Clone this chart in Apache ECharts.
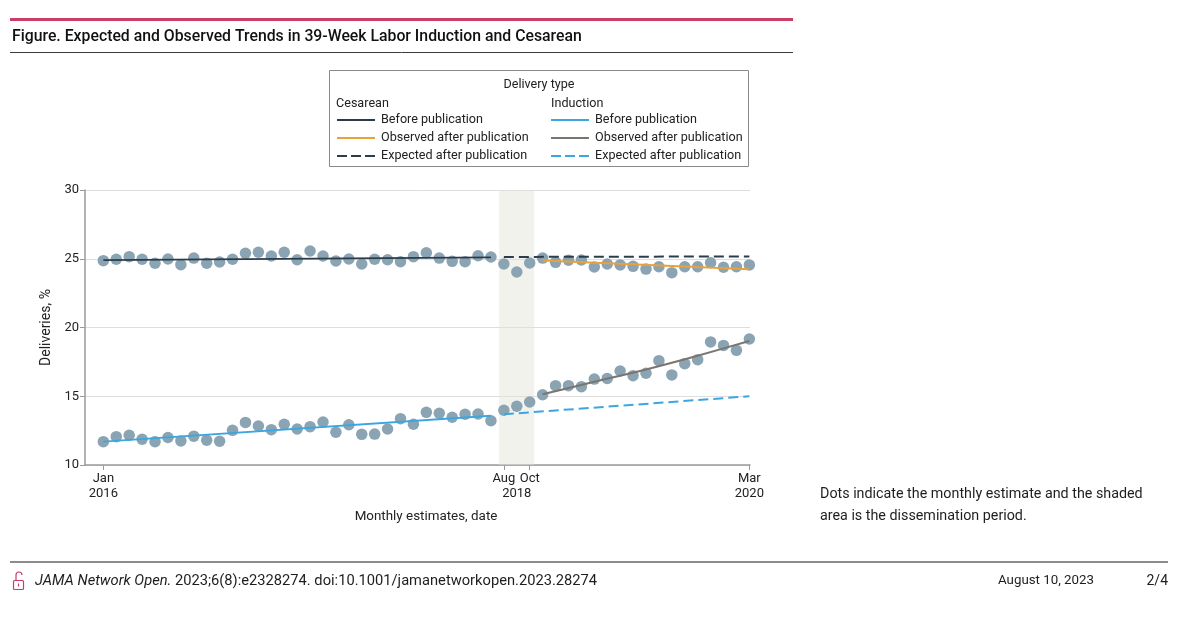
<!DOCTYPE html>
<html>
<head>
<meta charset="utf-8">
<script src="https://cdn.jsdelivr.net/npm/echarts@6/dist/echarts.min.js"></script>
<style>
html,body{margin:0;padding:0;background:#fff;}
#c{width:1200px;height:631px;}
</style>
</head>
<body>
<div id="c"></div>
<script>
// ---- data ----
const tickIndex = [0, 31, 33, 50];              // month index (0 = Jan 2016)
const labelIndex = [0, 31, 32, 33, 50];
const monthLabels = ['Jan\n2016', 'Aug', '\n2018', 'Oct', 'Mar\n2020'];
const yTicks = [10, 15, 20, 25, 30];

const cesarean = [24.86, 24.96, 25.15, 24.96, 24.67, 24.98, 24.57, 25.05, 24.67, 24.76, 24.96, 25.40,
  25.47, 25.20, 25.47, 24.93, 25.56, 25.20, 24.84, 24.98, 24.62, 24.96, 24.93, 24.79,
  25.15, 25.44, 25.05, 24.81, 24.79, 25.22, 25.13, 24.62, 24.04, 24.69, 25.05, 24.74,
  24.89, 24.91, 24.40, 24.62, 24.55, 24.45, 24.25, 24.42, 23.99, 24.42, 24.42, 24.71,
  24.38, 24.42, 24.55];
const induction = [11.70, 12.06, 12.16, 11.87, 11.70, 12.00, 11.75, 12.10, 11.80, 11.73, 12.52, 13.10,
  12.84, 12.57, 12.96, 12.62, 12.79, 13.13, 12.38, 12.93, 12.23, 12.25, 12.62, 13.37,
  12.96, 13.83, 13.76, 13.47, 13.69, 13.71, 13.22, 13.98, 14.27, 14.58, 15.11, 15.77,
  15.77, 15.70, 16.25, 16.30, 16.84, 16.50, 16.67, 17.59, 16.55, 17.37, 17.66, 18.95,
  18.70, 18.34, 19.16];

const cesBefore   = [[0, 24.90], [30, 25.10]];
const cesExpected = [[31, 25.13], [50, 25.17]];
const cesObserved = [[34, 24.87], [50, 24.23]];
const indBefore   = [[0, 11.70], [30, 13.58]];
const indExpected = [[31, 13.69], [50, 15.00]];
const indObserved = [[34, 15.14], [38, 16.05], [42, 16.95], [46, 17.95], [50, 19.02]];
const dissemination = [30.63, 33.34];

// ---- style ----
const FONT = 'Roboto, "Noto Sans", sans-serif';
const C_DOT = '#8ba4b4';
const C_CES = '#2b3d4b';
const C_ORANGE = '#e9a23b';
const C_BLUE = '#3ba6df';
const C_GRAY = '#7b756f';
const TXT = '#222';
const PINK = '#cb3c67';

const chart = echarts.init(document.getElementById('c'), null, {renderer: 'canvas'});

function lineSeries(name, data, color, dashed) {
  return {
    name, type: 'line', data, symbol: 'none', z: 5, smooth: data.length > 2 ? 0.3 : false,
    lineStyle: {color, width: 2, type: dashed ? [10, 5] : 'solid'},
    silent: true, animation: false
  };
}

const legendItems = [];
function legendRow(x, y, color, dashed, text) {
  legendItems.push({type: 'line', shape: {x1: x, y1: y, x2: x + 38, y2: y},
    style: {stroke: color, lineWidth: 2, lineDash: dashed ? [10, 4] : null}});
  legendItems.push({type: 'text', x: x + 44, y: y,
    style: {text, font: '12.6px ' + FONT, fill: TXT, textVerticalAlign: 'middle'}});
}
legendRow(337, 120, C_CES, false, 'Before publication');
legendRow(337, 138, C_ORANGE, false, 'Observed after publication');
legendRow(337, 156, C_CES, true, 'Expected after publication');
legendRow(551, 120, C_BLUE, false, 'Before publication');
legendRow(551, 138, C_GRAY, false, 'Observed after publication');
legendRow(551, 156, C_BLUE, true, 'Expected after publication');

const option = {
  animation: false,
  textStyle: {fontFamily: FONT},
  grid: {left: 85, right: 450, top: 190, bottom: 166, containLabel: false},
  xAxis: {
    type: 'value', min: -1.42, max: 50.05,
    axisLine: {show: true, onZero: false, lineStyle: {color: '#9a9a9a', width: 1.5}},
    axisTick: {show: true, length: 5, customValues: tickIndex, lineStyle: {color: '#9a9a9a'}},
    axisLabel: {
      customValues: labelIndex, margin: 6, color: TXT, fontSize: 13, lineHeight: 15,
      verticalAlign: 'top',
      formatter: v => monthLabels[labelIndex.indexOf(Math.round(v))] || ''
    },
    splitLine: {show: false}
  },
  yAxis: {
    type: 'value', min: yTicks[0], max: yTicks[yTicks.length - 1], interval: 5,
    name: 'Deliveries, %', nameLocation: 'middle', nameGap: 31, nameRotate: 90,
    nameTextStyle: {color: TXT, fontSize: 14},
    axisLine: {show: true, onZero: false, lineStyle: {color: '#9a9a9a', width: 1.5}},
    axisTick: {show: true, length: 5, lineStyle: {color: '#9a9a9a'}},
    axisLabel: {color: TXT, fontSize: 13, margin: 6},
    splitLine: {show: true, lineStyle: {color: '#dedede', width: 1}}
  },
  series: [
    {type: 'line', data: [], z: 1, silent: true,
      markArea: {silent: true, itemStyle: {color: 'rgba(226,226,214,0.45)'},
        data: [[{xAxis: dissemination[0]}, {xAxis: dissemination[1]}]]}},
    {name: 'Cesarean', type: 'scatter', z: 3, symbolSize: 11.5,
      itemStyle: {color: C_DOT, opacity: 1},
      data: cesarean.map((v, i) => [i, v])},
    {name: 'Induction', type: 'scatter', z: 3, symbolSize: 11.5,
      itemStyle: {color: C_DOT, opacity: 1},
      data: induction.map((v, i) => [i, v])},
    lineSeries('Cesarean before', cesBefore, C_CES, false),
    lineSeries('Cesarean expected', cesExpected, C_CES, true),
    lineSeries('Cesarean observed', cesObserved, C_ORANGE, false),
    lineSeries('Induction before', indBefore, C_BLUE, false),
    lineSeries('Induction expected', indExpected, C_BLUE, true),
    lineSeries('Induction observed', indObserved, C_GRAY, false)
  ],
  graphic: [
    // top rule + title
    {type: 'rect', shape: {x: 10, y: 18, width: 783, height: 3}, style: {fill: PINK}},
    {type: 'text', x: 12, y: 37,
      style: {text: 'Figure. Expected and Observed Trends in 39-Week Labor Induction and Cesarean',
        font: '500 15.8px ' + FONT, fill: '#111', textVerticalAlign: 'middle'}},
    {type: 'line', shape: {x1: 10, y1: 52.5, x2: 793, y2: 52.5}, style: {stroke: '#3a3a3a', lineWidth: 1}},
    // legend box
    {type: 'rect', shape: {x: 329.5, y: 70.5, width: 419, height: 96},
      style: {fill: '#fff', stroke: '#8a8a8a', lineWidth: 1}},
    {type: 'text', x: 539, y: 85,
      style: {text: 'Delivery type', font: '12.6px ' + FONT, fill: TXT, textAlign: 'center', textVerticalAlign: 'middle'}},
    {type: 'text', x: 336, y: 104,
      style: {text: 'Cesarean', font: '12.6px ' + FONT, fill: TXT, textVerticalAlign: 'middle'}},
    {type: 'text', x: 551, y: 104,
      style: {text: 'Induction', font: '12.6px ' + FONT, fill: TXT, textVerticalAlign: 'middle'}},
    ...legendItems,
    // x axis title
    {type: 'text', x: 426, y: 517,
      style: {text: 'Monthly estimates, date', font: '13.4px ' + FONT, fill: TXT, textAlign: 'center', textVerticalAlign: 'middle'}},
    // note
    {type: 'text', x: 820, y: 494,
      style: {text: 'Dots indicate the monthly estimate and the shaded', font: '14.3px ' + FONT, fill: '#1e1e1e', textVerticalAlign: 'middle'}},
    {type: 'text', x: 820, y: 516,
      style: {text: 'area is the dissemination period.', font: '14.3px ' + FONT, fill: '#1e1e1e', textVerticalAlign: 'middle'}},
    // bottom rule
    {type: 'rect', shape: {x: 10, y: 561, width: 1158, height: 2}, style: {fill: '#8c8c8c'}},
    // lock icon
    {type: 'rect', shape: {x: 13.5, y: 580.5, width: 10, height: 9, r: 1}, style: {fill: 'none', stroke: PINK, lineWidth: 1.2}},
    {type: 'arc', shape: {cx: 19, cy: 575, r: 3, startAngle: Math.PI, endAngle: 2 * Math.PI, clockwise: true},
      style: {fill: 'none', stroke: PINK, lineWidth: 1.2}},
    {type: 'line', shape: {x1: 16, y1: 575, x2: 16, y2: 580.5}, style: {stroke: PINK, lineWidth: 1.2}},
    {type: 'line', shape: {x1: 18.5, y1: 583.5, x2: 18.5, y2: 586.5}, style: {stroke: PINK, lineWidth: 1.2}},
    // footer
    {type: 'text', x: 35, y: 581,
      style: {text: '{i|JAMA Network Open.} 2023;6(8):e2328274. doi:10.1001/jamanetworkopen.2023.28274',
        font: '14.7px ' + FONT, fill: '#1e1e1e', textVerticalAlign: 'middle',
        rich: {i: {fontStyle: 'italic', fontSize: 14.7, fontFamily: FONT, fill: '#1e1e1e'}}}},
    {type: 'text', x: 1094, y: 581,
      style: {text: 'August 10, 2023', font: '13.3px ' + FONT, fill: '#1e1e1e', textAlign: 'right', textVerticalAlign: 'middle'}},
    {type: 'text', x: 1168, y: 581,
      style: {text: '2/4', font: '14px ' + FONT, fill: '#1e1e1e', textAlign: 'right', textVerticalAlign: 'middle'}}
  ]
};
chart.setOption(option);
</script>
</body>
</html>
